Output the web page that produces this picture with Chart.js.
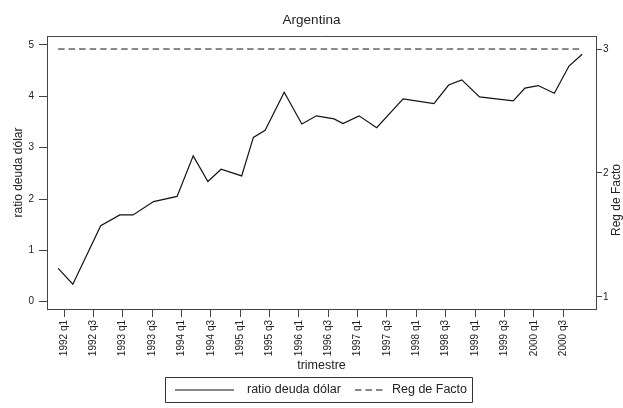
<!DOCTYPE html>
<html>
<head>
<meta charset="utf-8">
<script src="https://cdn.jsdelivr.net/npm/chart.js@4/dist/chart.umd.min.js"></script>
<style>
    html, body { margin: 0; padding: 0; background: #fff; }
    #wrap { width: 623px; height: 408px; }
</style>
</head>
<body>
<div id="wrap"><canvas id="argChart" width="623" height="408"></canvas></div>
<script>
/**
 * Argentina - ratio deuda dolar vs Reg de Facto
 */

const trimestre = [
    -0.4, 0.6, 2.5, 3.8, 4.7, 6.1, 7.7, 8.8, 9.8, 10.7, 12.1,
    12.9, 13.7, 15.0, 16.2, 17.2, 18.4, 19.0, 20.1, 21.3, 23.1,
    25.2, 26.2, 27.1, 28.3, 30.6, 31.4, 32.3, 33.4, 34.4, 35.3
];

// Left axis series
const ratioDeudaDolar = [
    0.65, 0.34, 1.48, 1.69, 1.69, 1.95, 2.05, 2.84, 2.34, 2.58, 2.45,
    3.20, 3.34, 4.08, 3.46, 3.62, 3.56, 3.47, 3.62, 3.39, 3.95,
    3.86, 4.22, 4.32, 3.99, 3.91, 4.16, 4.21, 4.06, 4.59, 4.82
];

// Right axis series
const regDeFacto = [
    3, 3, 3, 3, 3, 3, 3, 3, 3, 3, 3,
    3, 3, 3, 3, 3, 3, 3, 3, 3, 3,
    3, 3, 3, 3, 3, 3, 3, 3, 3, 3
];

// Tick labels (every second quarter)
const tickLabels = [
    '1992 q1', '1992 q3', '1993 q1', '1993 q3', '1994 q1', '1994 q3',
    '1995 q1', '1995 q3', '1996 q1', '1996 q3', '1997 q1', '1997 q3',
    '1998 q1', '1998 q3', '1999 q1', '1999 q3', '2000 q1', '2000 q3'
];
const leftTicks = [0, 1, 2, 3, 4, 5];
const rightTicks = [1, 2, 3];

const FONT = '"Liberation Sans", Arial, Helvetica, sans-serif';
const AXIS_COLOR = '#444';

/**
 * Frame, right axis title and legend box
 */
const decorPlugin = {
    id: 'decor',
    afterDraw(chart) {
        const ctx = chart.ctx;
        const a = chart.chartArea;
        ctx.save();

        // top border of the plot box
        ctx.strokeStyle = AXIS_COLOR;
        ctx.lineWidth = 1;
        ctx.beginPath();
        ctx.moveTo(a.left, a.top + 0.5);
        ctx.lineTo(a.right, a.top + 0.5);
        ctx.stroke();

        // right axis title, reading bottom to top
        ctx.fillStyle = '#222';
        ctx.font = '12px ' + FONT;
        ctx.textAlign = 'center';
        ctx.textBaseline = 'middle';
        ctx.translate(617, 200);
        ctx.rotate(-Math.PI / 2);
        ctx.fillText('Reg de Facto', 0, 0);
        ctx.setTransform(1, 0, 0, 1, 0, 0);

        // legend
        ctx.strokeStyle = '#333';
        ctx.beginPath();
        ctx.rect(165.5, 377.5, 307, 25);
        ctx.stroke();

        const ly = 390;
        ctx.lineWidth = 1.2;
        ctx.strokeStyle = '#111';
        ctx.beginPath();
        ctx.moveTo(175, ly);
        ctx.lineTo(234, ly);
        ctx.stroke();

        ctx.setLineDash([6.5, 4]);
        ctx.lineWidth = 1;
        ctx.beginPath();
        ctx.moveTo(355, ly);
        ctx.lineTo(386, ly);
        ctx.stroke();
        ctx.setLineDash([]);

        ctx.font = '12.5px ' + FONT;
        ctx.textAlign = 'left';
        ctx.fillText('ratio deuda dólar', 247, ly);
        ctx.fillText('Reg de Facto', 392, ly);

        ctx.restore();
    }
};

const ctx = document.getElementById('argChart').getContext('2d');

new Chart(ctx, {
    type: 'line',
    data: {
        datasets: [{
            label: 'ratio deuda dólar',
            data: trimestre.map((x, i) => ({ x: x, y: ratioDeudaDolar[i] })),
            borderColor: '#111',
            borderWidth: 1.2,
            pointRadius: 0,
            tension: 0,
            yAxisID: 'y'
        }, {
            label: 'Reg de Facto',
            data: trimestre.map((x, i) => ({ x: x, y: regDeFacto[i] })),
            borderColor: '#111',
            borderWidth: 1,
            borderDash: [6.5, 4],
            pointRadius: 0,
            tension: 0,
            yAxisID: 'y2'
        }]
    },
    options: {
        responsive: false,
        animation: false,
        layout: { padding: 0 },
        plugins: {
            legend: { display: false },
            tooltip: { enabled: false },
            title: {
                display: true,
                text: 'Argentina',
                color: '#222',
                font: { family: FONT, size: 13.5, weight: 'normal', lineHeight: 1.2 },
                padding: { top: 12, bottom: 7.8 }
            }
        },
        scales: {
            x: {
                type: 'linear',
                position: 'bottom',
                min: -1.16,
                max: 36.24,
                afterBuildTicks: (scale) => {
                    scale.ticks = tickLabels.map((_, i) => ({ value: i * 2 }));
                },
                afterFit: (scale) => { scale.height = 99; },
                grid: {
                    drawOnChartArea: false,
                    color: AXIS_COLOR,
                    tickLength: 8
                },
                border: { display: true, color: AXIS_COLOR, width: 1 },
                ticks: {
                    autoSkip: false,
                    minRotation: 90,
                    maxRotation: 90,
                    padding: 3,
                    color: '#222',
                    font: { family: FONT, size: 10 },
                    callback: (value, index) => tickLabels[index]
                },
                title: {
                    display: true,
                    text: 'trimestre',
                    color: '#222',
                    font: { family: FONT, size: 12.5, lineHeight: 1.2 },
                    padding: { top: 0, bottom: 35 }
                }
            },
            y: {
                position: 'left',
                min: -0.142,
                max: 5.175,
                afterBuildTicks: (scale) => {
                    scale.ticks = leftTicks.map(v => ({ value: v }));
                },
                afterFit: (scale) => { scale.width = 47; },
                grid: {
                    drawOnChartArea: false,
                    color: AXIS_COLOR,
                    tickLength: 8
                },
                border: { display: true, color: AXIS_COLOR, width: 1 },
                ticks: {
                    padding: 5,
                    color: '#222',
                    font: { family: FONT, size: 10 }
                },
                title: {
                    display: true,
                    text: 'ratio deuda dólar',
                    color: '#222',
                    font: { family: FONT, size: 12, lineHeight: 1.2 },
                    padding: { top: 11, bottom: 0 }
                }
            },
            y2: {
                position: 'right',
                min: 0.903,
                max: 3.105,
                afterBuildTicks: (scale) => {
                    scale.ticks = rightTicks.map(v => ({ value: v }));
                },
                afterFit: (scale) => { scale.width = 27; },
                grid: {
                    drawOnChartArea: false,
                    color: AXIS_COLOR,
                    tickLength: 6
                },
                border: { display: true, color: AXIS_COLOR, width: 1 },
                ticks: {
                    padding: 1,
                    color: '#222',
                    font: { family: FONT, size: 10 }
                }
            }
        }
    },
    plugins: [decorPlugin]
});
</script>
</body>
</html>
